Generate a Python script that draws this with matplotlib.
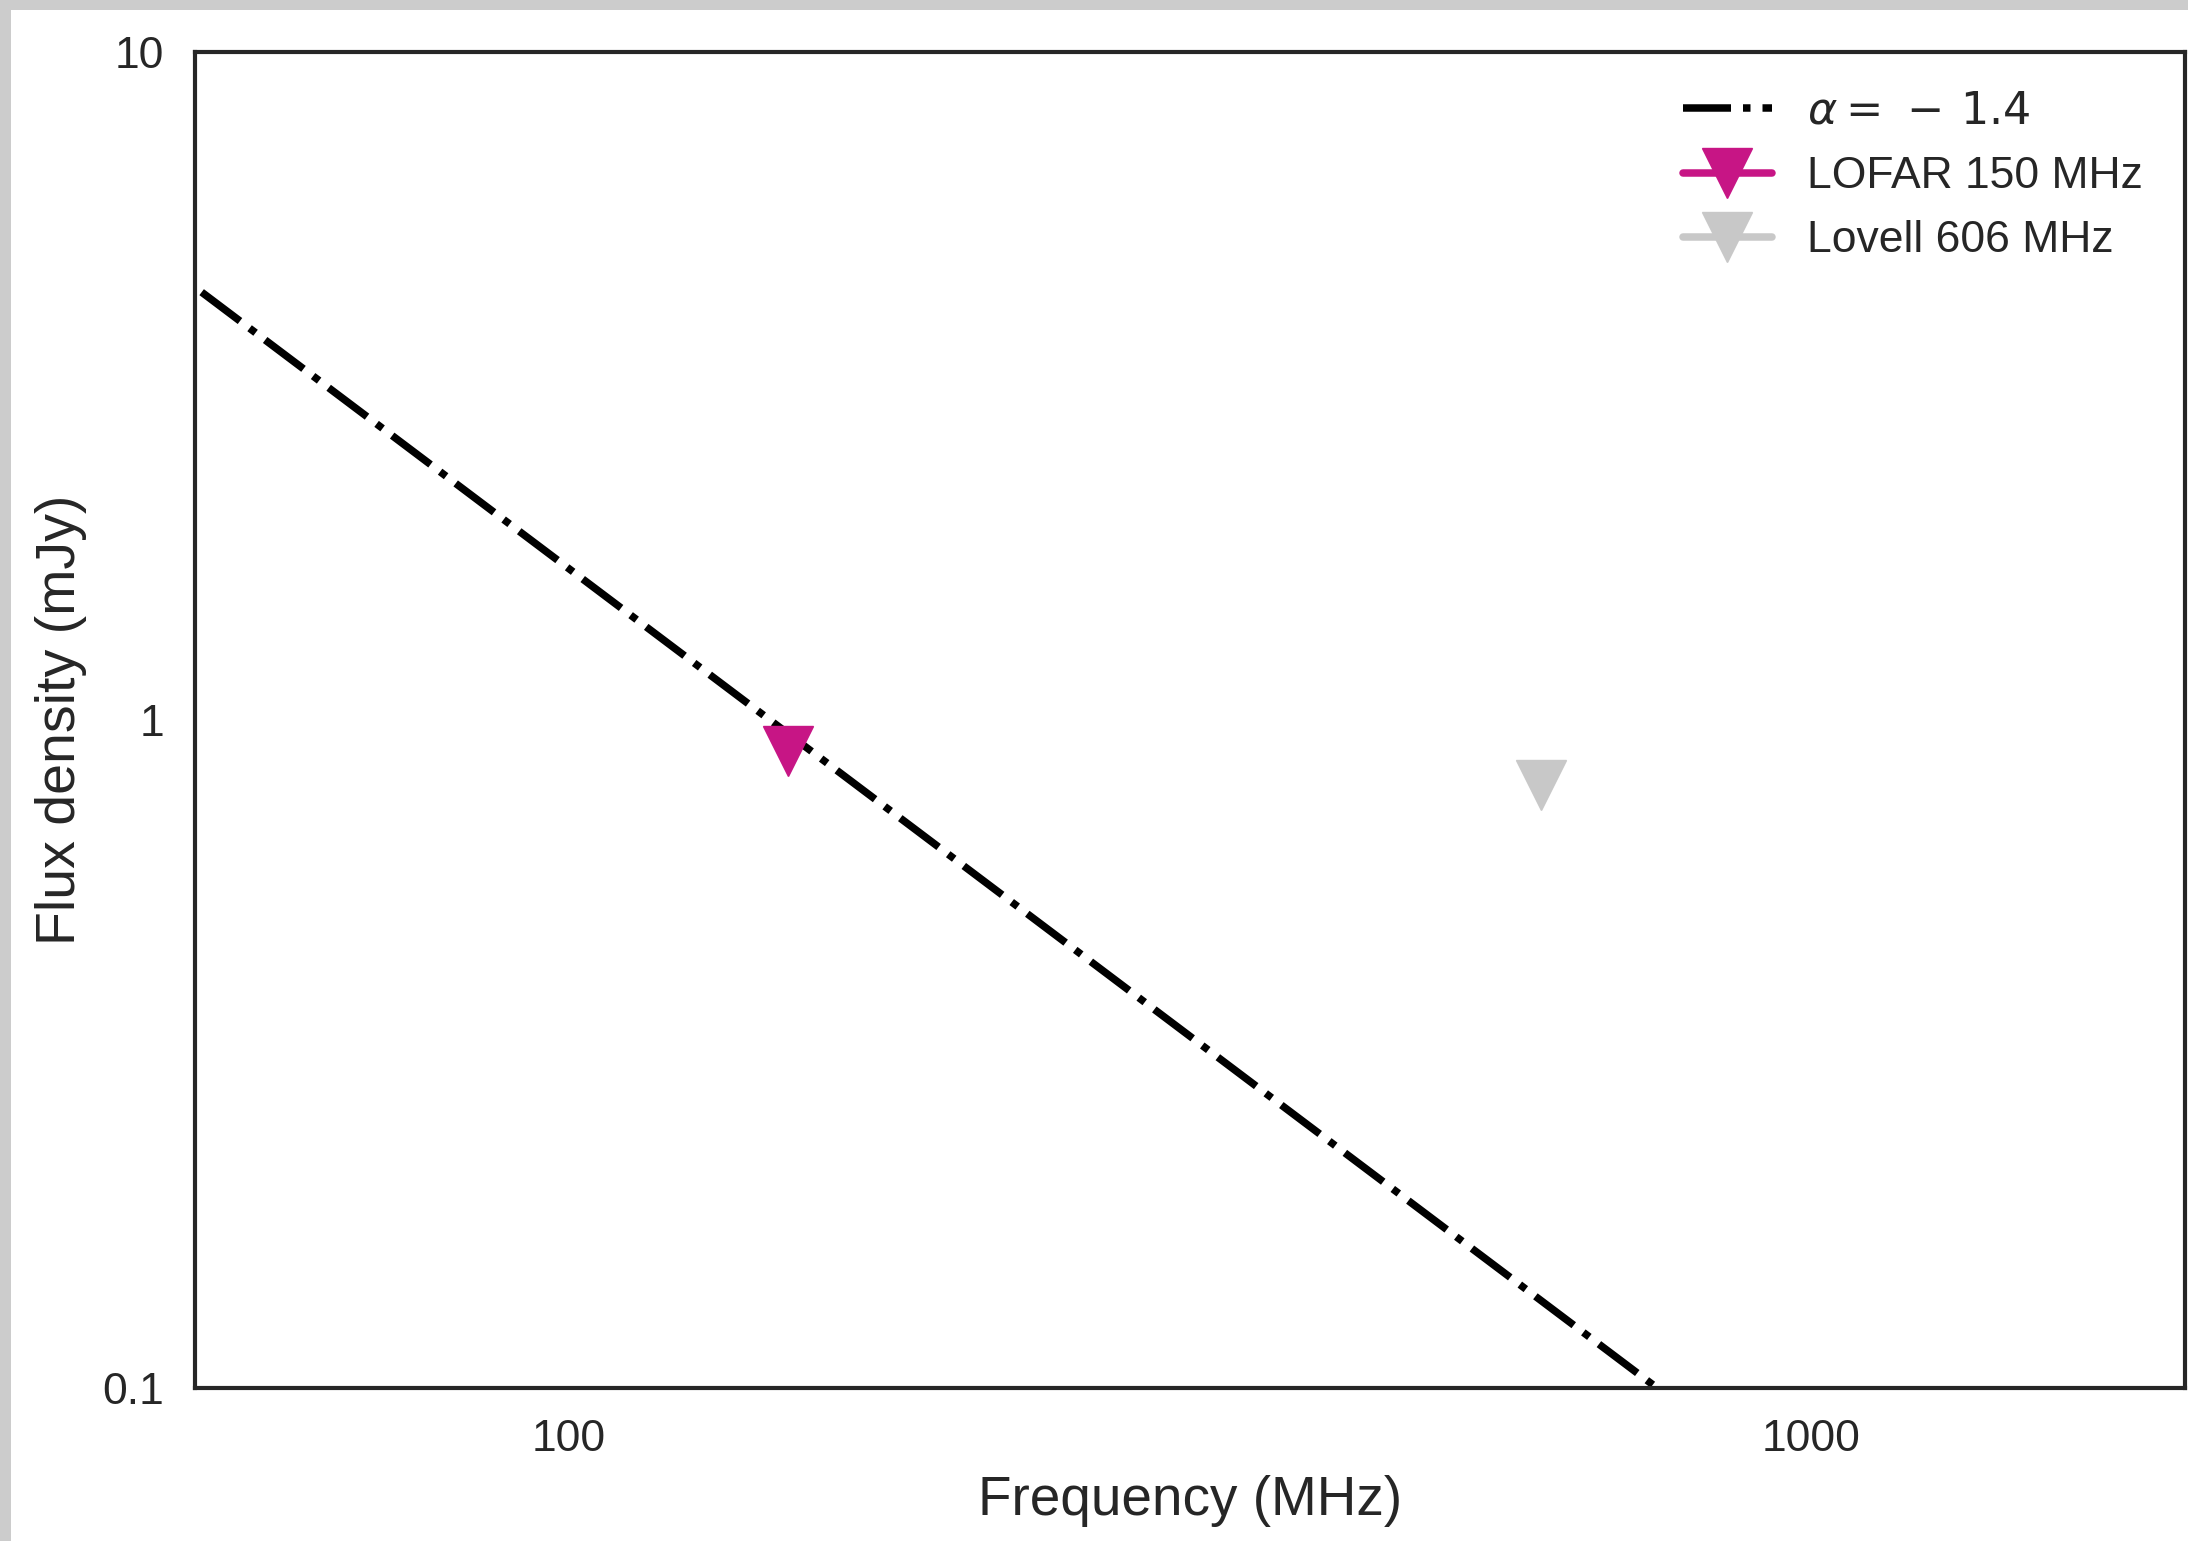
import numpy as np
import matplotlib
matplotlib.use("Agg")
import matplotlib.pyplot as plt
from matplotlib.patches import Rectangle
from matplotlib.ticker import FixedLocator, NullLocator

# ---- data ----
alpha = -1.4
s150_model = 0.955           # model normalisation at 150 MHz (mJy)
model_freq_ends = [40.0, 3000.0]   # power law is straight on log-log
lofar_freq = [150.0]
lofar_flux = [0.90]
lovell_freq = [606.0]
lovell_flux = [0.80]
xticks = [100, 1000]
xticklabels = ["100", "1000"]
yticks = [0.1, 1, 10]
yticklabels = ["0.1", "1", "10"]

plt.rcParams['font.family'] = ['Liberation Sans', 'DejaVu Sans']
plt.rcParams['mathtext.fontset'] = 'dejavusans'

W, H = 2188, 1541
fig = plt.figure(figsize=(W / 100, H / 100), dpi=100)
fig.patch.set_facecolor('#cccccc')
fig.patches.append(Rectangle((11 / W, 0), 1 - 11 / W, 1 - 10 / H,
                             transform=fig.transFigure, facecolor='white',
                             edgecolor='none', zorder=-10))

ax = fig.add_axes([195 / W, 1 - 1388 / H, (2185 - 195) / W, (1388 - 52) / H])
ax.set_facecolor('white')
ax.set_zorder(1)

txt = '#262626'
lw = 5.4

mf = np.array(model_freq_ends)
ax.plot(mf, s150_model * (mf / 150.0) ** alpha, color='black', lw=lw,
        ls='-.', dash_capstyle='butt', label=r'$\alpha =\,-\,1.4$', zorder=2)
ax.plot(lofar_freq, lofar_flux, marker='v', ms=36, color='#c71585',
        mec='#c71585', lw=lw, solid_capstyle='round', ls='-',
        label='LOFAR 150 MHz', zorder=3)
ax.plot(lovell_freq, lovell_flux, marker='v', ms=36, color='#c8c8c8',
        mec='#c8c8c8', lw=lw, solid_capstyle='round', ls='-',
        label='Lovell 606 MHz', zorder=3)

ax.set_xscale('log')
ax.set_yscale('log')
ax.set_xlim(50, 2000)
ax.set_ylim(0.1, 10)

ax.xaxis.set_major_locator(FixedLocator(xticks))
ax.xaxis.set_minor_locator(NullLocator())
ax.set_xticklabels(xticklabels)
ax.yaxis.set_major_locator(FixedLocator(yticks))
ax.yaxis.set_minor_locator(NullLocator())
ax.set_yticklabels(yticklabels)
ax.tick_params(axis='both', length=0, labelsize=32, colors=txt)
ax.tick_params(axis='x', pad=22)
ax.tick_params(axis='y', pad=22)

for sp in ax.spines.values():
    sp.set_linewidth(3.0)
    sp.set_color(txt)

ax.set_xlabel('Frequency (MHz)', fontsize=39.5, color=txt, labelpad=11)
ax.set_ylabel('Flux density (mJy)', fontsize=40, color=txt, labelpad=11)

leg = ax.legend(loc='upper right', bbox_to_anchor=(0.999, 1.0), frameon=False,
                fontsize=32, numpoints=1, handlelength=2.0,
                handletextpad=0.8, labelspacing=0.52)
for t in leg.get_texts():
    t.set_color(txt)

fig.savefig('out.png', dpi=100, facecolor=fig.get_facecolor())
